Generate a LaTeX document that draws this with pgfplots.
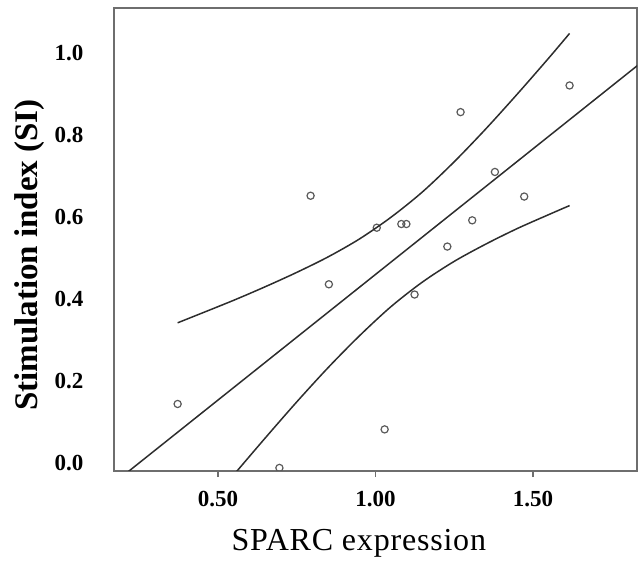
\documentclass[border=0pt]{standalone}
\usepackage{fontspec}
\setmainfont{Liberation Serif}
\usepackage{pgfplots}
\pgfplotsset{compat=1.18}

\definecolor{framegray}{RGB}{110,110,110}
\definecolor{linegray}{RGB}{45,45,45}
\definecolor{markgray}{RGB}{90,90,90}

\begin{document}
\begin{tikzpicture}
\begin{axis}[
  scale only axis,
  width=523bp, height=463bp,
  xmin=0.17, xmax=1.83,
  ymin=-0.0195, ymax=1.11,
  axis line style={framegray, line width=1.3bp},
  xtick={0.5,1,1.5},
  xticklabels={0.50,1.00,1.50},
  ytick={0,0.2,0.4,0.6,0.8,1.0},
  yticklabels={0.0,0.2,0.4,0.6,0.8,1.0},
  xtick pos=bottom,
  ytick style={draw=none},
  xtick style={framegray, line width=1.2bp},
  tick align=outside,
  major tick length=6bp,
  tick label style={font=\fontsize{23bp}{27bp}\selectfont\bfseries},
  xticklabel style={yshift=-11bp},
  yticklabel style={xshift=-21bp},
  xlabel={SPARC expression},
  ylabel={Stimulation index (SI)},
  x label style={at={(axis description cs:0.468,-0.1555)}, anchor=center,
    font=\fontsize{32bp}{38bp}\selectfont\addfontfeature{LetterSpace=2.5}},
  y label style={at={(axis description cs:-0.1606,0.4665)}, anchor=center,
    rotate=0, font=\fontsize{33bp}{40bp}\selectfont\bfseries},
  clip marker paths=true,
]
% observed values
\addplot[only marks, mark=o, mark size=3.6bp, mark options={markgray, line width=1.2bp}]
  coordinates {
  (0.372,0.144) (0.695,-0.012) (0.794,0.652) (0.852,0.436) (1.004,0.574)
  (1.029,0.082) (1.082,0.583) (1.098,0.583) (1.124,0.411) (1.228,0.528)
  (1.270,0.856) (1.307,0.592) (1.379,0.710) (1.472,0.650) (1.616,0.921)
  };
% fit line
\addplot[linegray, line width=1.5bp] coordinates {(0.15,-0.061) (1.85,0.981)};
% upper band
\addplot[linegray, line width=1.5bp, smooth] coordinates {
  (0.372,0.342) (0.45,0.366) (0.55,0.397) (0.65,0.430) (0.75,0.465)
  (0.85,0.503) (0.95,0.547) (1.05,0.600) (1.15,0.662) (1.25,0.735)
  (1.35,0.815) (1.45,0.900) (1.55,0.988) (1.616,1.048)
  };
% lower band
\addplot[linegray, line width=1.5bp, smooth] coordinates {
  (0.372,-0.192) (0.45,-0.120) (0.55,-0.029) (0.65,0.061) (0.75,0.149)
  (0.85,0.233) (0.95,0.311) (1.05,0.382) (1.15,0.442) (1.25,0.492)
  (1.35,0.534) (1.45,0.572) (1.55,0.606) (1.616,0.628)
  };
\end{axis}
\pgfresetboundingbox
\path[use as bounding box] (-114bp,-90bp) rectangle (524bp,471bp);
\end{tikzpicture}
\end{document}
